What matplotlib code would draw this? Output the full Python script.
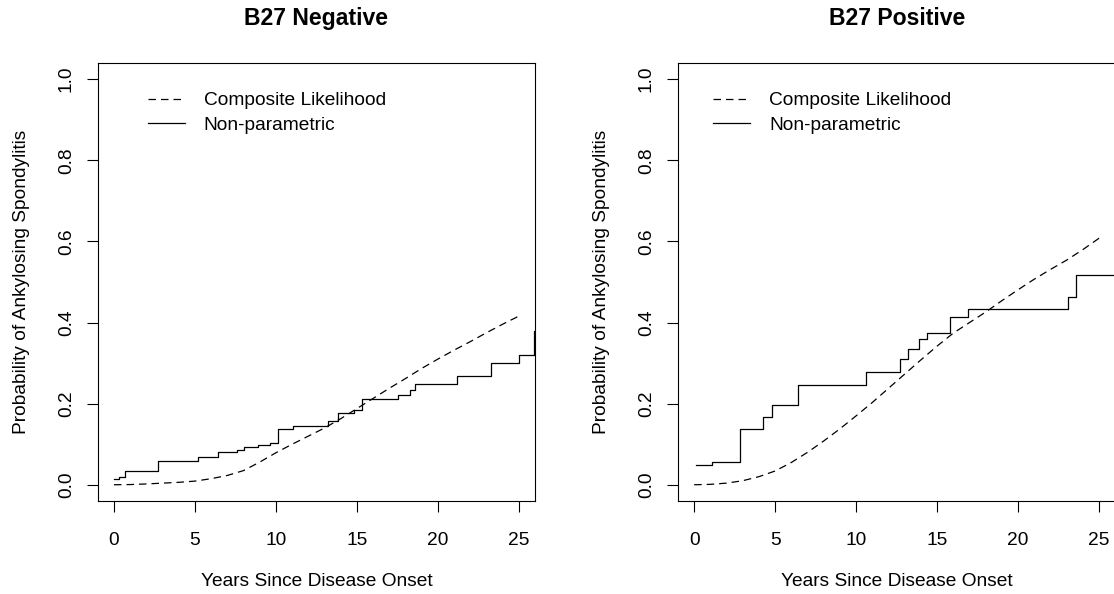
#!/usr/bin/env python3
# plot.py - B27 negative / positive cumulative probability of AS

import matplotlib

matplotlib.use("Agg")
import matplotlib.pyplot as plt
from matplotlib.ticker import FormatStrFormatter

plt.rcParams["font.family"] = ["Liberation Sans", "DejaVu Sans"]

# composite likelihood curves, read at whole years since onset
years = list(range(26))
cl_neg = [0.000, 0.0005, 0.002, 0.004, 0.006, 0.009, 0.015, 0.023, 0.035, 0.056,
          0.079, 0.100, 0.120, 0.140, 0.163, 0.188, 0.213, 0.238, 0.262, 0.287,
          0.310, 0.332, 0.353, 0.375, 0.396, 0.416]
cl_pos = [0.000, 0.001, 0.004, 0.010, 0.020, 0.034, 0.055, 0.080, 0.108, 0.138,
          0.170, 0.203, 0.238, 0.273, 0.308, 0.342, 0.374, 0.400, 0.426, 0.454,
          0.481, 0.507, 0.531, 0.554, 0.580, 0.608]

# non-parametric step estimates (time of jump, value after jump)
np_neg_t = [0.0, 0.3, 0.7, 2.74, 5.2, 6.4, 7.6, 8.0, 8.9, 9.65, 10.15, 11.07,
            13.2, 13.85, 14.8, 15.33, 17.55, 18.3, 18.6, 21.2, 23.3, 25.0,
            25.9, 25.95, 27.0]
np_neg_p = [0.014, 0.019, 0.034, 0.059, 0.068, 0.080, 0.086, 0.092, 0.098,
            0.103, 0.137, 0.144, 0.158, 0.177, 0.185, 0.211, 0.222, 0.234,
            0.248, 0.268, 0.300, 0.321, 0.347, 0.378, 0.378]
np_pos_t = [0.1, 1.13, 2.84, 4.24, 4.83, 6.44, 10.6, 12.7, 13.2, 13.9, 14.4,
            15.8, 16.9, 23.1, 23.6, 27.0]
np_pos_p = [0.048, 0.055, 0.137, 0.167, 0.196, 0.247, 0.279, 0.311, 0.335,
            0.360, 0.374, 0.413, 0.434, 0.463, 0.516, 0.516]

FS = 13.8


def plot(ax, title, cl, np_t, np_p, leg_x):
    ax.plot(years, cl, color="black", linewidth=0.9, dashes=(6, 4),
            label="Composite Likelihood")
    ax.step(np_t, np_p, where="post", color="black", linewidth=0.9,
            label="Non-parametric")

    ax.set_xlim(-1, 26)
    ax.set_ylim(-0.04, 1.04)
    ax.set_xticks(range(0, 26, 5))
    ax.set_yticks([0.0, 0.2, 0.4, 0.6, 0.8, 1.0])
    ax.yaxis.set_major_formatter(FormatStrFormatter("%.1f"))
    ax.tick_params(direction="out", length=7.7, width=0.8, labelsize=FS)
    ax.tick_params(axis="x", pad=14.6)
    ax.tick_params(axis="y", pad=8.9, labelrotation=90)
    for t in ax.get_yticklabels():
        t.set_va("center")
    for s in ax.spines.values():
        s.set_linewidth(0.8)

    ax.set_title(title, fontsize=FS * 1.2, fontweight="bold", pad=27.4)
    ax.set_xlabel("Years Since Disease Onset", fontsize=FS, labelpad=17)
    ax.set_ylabel("Probability of Ankylosing Spondylitis", fontsize=FS,
                  labelpad=20)

    # legend without box, top left
    ax.legend(loc="upper left", bbox_to_anchor=(leg_x, 0.934), frameon=False,
              fontsize=FS, handlelength=1.93, handletextpad=1.0,
              labelspacing=0.39, borderpad=0, borderaxespad=0)


def main():
    fig = plt.figure(figsize=(11.14, 5.94), dpi=100)
    ax1 = fig.add_axes([0.0878, 0.1566, 0.3926, 0.7374])
    ax2 = fig.add_axes([0.6086, 0.1566, 0.3926, 0.7374])

    plot(ax1, "B27 Negative", cl_neg, np_neg_t, np_neg_p, 0.114)
    plot(ax2, "B27 Positive", cl_pos, np_pos_t, np_pos_p, 0.080)

    fig.savefig("out.png", dpi=100)


if __name__ == "__main__":
    main()
